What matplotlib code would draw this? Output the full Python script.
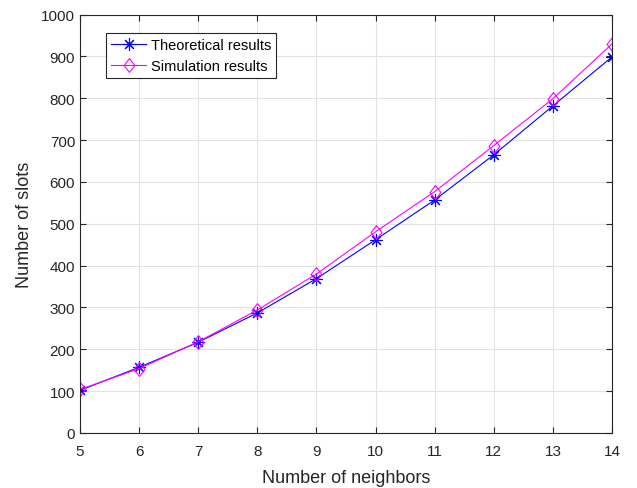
import numpy as np
import matplotlib.pyplot as plt

plt.rcParams['font.family'] = ['Liberation Sans', 'DejaVu Sans']

# values
neighbors = [5, 6, 7, 8, 9, 10, 11, 12, 13, 14]
theoretical = [102, 157, 217, 287, 369, 462, 557, 665, 782, 899]
simulation = [104, 154, 218, 294, 380, 481, 577, 687, 799, 930]

x_ticks = list(range(5, 15))
y_ticks = list(range(0, 1001, 100))

dark = '#262626'

# MATLAB-like markers: 8-spoke asterisk and slightly tall diamond
asterisk = (8, 2, 0)
diamond = [(0, 1), (0.78, 0), (0, -1), (-0.78, 0), (0, 1)]

fig = plt.figure(figsize=(6.37, 4.89), dpi=100)
ax = fig.add_axes([0.1256, 0.1125, 0.8352, 0.8555])

ax.plot(neighbors, theoretical, color='blue', lw=0.8, marker=asterisk,
        markersize=9, markeredgewidth=0.8, label='Theoretical results')
ax.plot(neighbors, simulation, color='magenta', lw=0.8, marker=diamond,
        markersize=10, markerfacecolor='none', markeredgewidth=0.8,
        label='Simulation results')

ax.set_xlim(5, 14)
ax.set_ylim(0, 1000)
ax.set_xticks(x_ticks)
ax.set_yticks(y_ticks)
ax.grid(True, color='#e3e3e3', lw=0.8)
ax.set_axisbelow(True)

ax.tick_params(direction='in', top=True, right=True, length=4,
               labelsize=11, colors=dark, width=0.8)
ax.tick_params(axis='x', pad=8)
for sp in ax.spines.values():
    sp.set_color(dark)
    sp.set_linewidth(0.8)

ax.set_xlabel('Number of neighbors', fontsize=13, color=dark, labelpad=8)
ax.set_ylabel('Number of slots', fontsize=13, color=dark, labelpad=6)

leg = ax.legend(loc='upper left', bbox_to_anchor=(0.049, 0.956), fontsize=10.5,
                fancybox=False, edgecolor=dark, framealpha=1,
                borderpad=0.35, handlelength=2.4, labelspacing=0.45,
                handletextpad=0.3, borderaxespad=0)
leg.get_frame().set_linewidth(0.8)

fig.savefig('out.png', dpi=100)
